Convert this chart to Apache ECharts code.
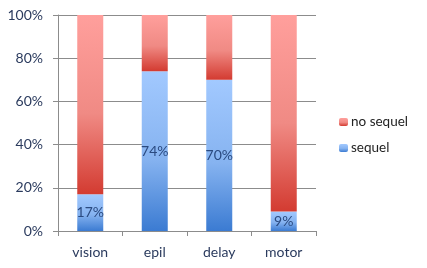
<!DOCTYPE html>
<html>
<head>
<meta charset="utf-8">
<script src="https://cdn.jsdelivr.net/npm/echarts@6/dist/echarts.min.js"></script>
<style>html,body{margin:0;padding:0;background:#fff;}#c{width:427px;height:268px;}</style>
</head>
<body>
<div id="c"></div>
<script>
const categories = ['vision', 'epil', 'delay', 'motor'];
const sequel = [17, 74, 70, 9];
const noSequel = [83, 26, 30, 91];
const yTicks = [0, 20, 40, 60, 80, 100];

const FONT = 'Lato';
const TXT = '#2b3b5e';
const GRID = '#8c8c8c';

function grad(top, mid, bot) {
  return new echarts.graphic.LinearGradient(0, 0, 0, 1, [
    {offset: 0, color: top}, {offset: 0.55, color: mid}, {offset: 1, color: bot}
  ]);
}

const chart = echarts.init(document.getElementById('c'), null, {renderer: 'canvas'});
chart.setOption({
  animation: false,
  textStyle: {fontFamily: FONT},
  grid: {left: 58, right: 111, top: 15, bottom: 37, containLabel: false},
  legend: {
    orient: 'vertical', left: 334, top: 110,
    itemWidth: 9, itemHeight: 8, itemGap: 12,
    data: ['no sequel', 'sequel'],
    textStyle: {fontFamily: FONT, fontSize: 13.5, color: '#222', padding: [0, 0, 0, -2]}
  },
  xAxis: {
    type: 'category', data: categories,
    axisLine: {lineStyle: {color: GRID, width: 1}},
    axisTick: {show: true, length: 5, lineStyle: {color: GRID}},
    axisLabel: {fontFamily: FONT, fontSize: 14, color: TXT, margin: 14}
  },
  yAxis: {
    type: 'value', min: yTicks[0], max: yTicks[yTicks.length - 1], interval: 20,
    axisLine: {show: true, lineStyle: {color: GRID, width: 1}},
    axisTick: {show: true, length: 5, lineStyle: {color: GRID}},
    splitLine: {show: true, lineStyle: {color: GRID, width: 1}},
    axisLabel: {fontFamily: FONT, fontSize: 14, color: TXT, margin: 15, formatter: '{value}%'}
  },
  series: [
    {
      name: 'sequel', type: 'bar', stack: 's', data: sequel, barWidth: 26,
      itemStyle: {color: grad('#a2c9ff', '#86b3f0', '#3b7bd2')},
      label: {show: true, position: 'inside', formatter: '{c}%', fontFamily: FONT, fontSize: 14, color: '#2a4a80'}
    },
    {
      name: 'no sequel', type: 'bar', stack: 's', data: noSequel, barWidth: 26,
      itemStyle: {color: grad('#ff9f9c', '#f08a84', '#d33b31')}
    }
  ]
});
</script>
</body>
</html>
